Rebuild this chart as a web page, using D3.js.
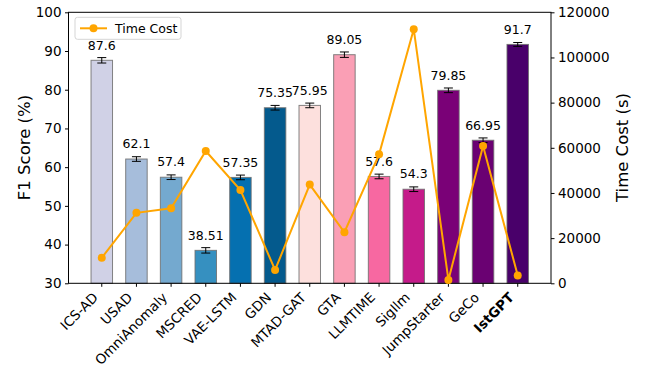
<!DOCTYPE html>
<html>
<head>
<meta charset="utf-8">
<script src="https://cdn.jsdelivr.net/npm/d3@7"></script>
<style>
  html, body { margin: 0; padding: 0; background: #fff; }
  svg { display: block; font-family: "DejaVu Sans", sans-serif; }
</style>
</head>
<body>
<svg id="chart" width="646" height="371"></svg>
<script>
// Methods compared
const methods = ["ICS-AD", "USAD", "OmniAnomaly", "MSCRED", "VAE-LSTM", "GDN", "MTAD-GAT",
                 "GTA", "LLMTIME", "SigIlm", "JumpStarter", "GeCo", "IstGPT"];
// F1 score (%) per method
const f1Scores = [87.6, 62.1, 57.4, 38.51, 57.35, 75.35, 75.95, 89.05, 57.6, 54.3, 79.85, 66.95, 91.7];
// Spread of F1 over runs (error bar half-length)
const f1Err = [0.7, 0.6, 0.6, 0.7, 0.6, 0.6, 0.6, 0.7, 0.6, 0.6, 0.6, 0.6, 0.5];
// Training time cost (s)
const timeCost = [11300, 31200, 33200, 58600, 41300, 5900, 43700, 22600, 57100, 112500, 1500, 60800, 3500];
// Bar fills
const barColors = ["#d0d1e6", "#a6bddb", "#74a9cf", "#3690c0", "#0570b0", "#045a8d",
                   "#fde0dd", "#fa9fb5", "#f768a1", "#c51b8a", "#7a0177", "#6a0172", "#49006a"];
// Axis ticks
const f1Ticks = [30, 40, 50, 60, 70, 80, 90, 100];
const timeTicks = [0, 20000, 40000, 60000, 80000, 100000, 120000];

const svg = d3.select("#chart");
const plotL = 68.5, plotR = 551, plotT = 12.3, plotB = 283.3;

const x = d3.scaleLinear().domain([-0.96, methods.length - 1 + 0.96]).range([plotL, plotR]);
const y = d3.scaleLinear().domain([30, 100]).range([plotB, plotT]);
const y2 = d3.scaleLinear().domain([0, 120000]).range([plotB, plotT]);
const barW = x(0.62) - x(0);

// Bars
svg.append("g").selectAll("rect").data(f1Scores).join("rect")
  .attr("x", (d, i) => x(i) - barW / 2)
  .attr("y", d => y(d))
  .attr("width", barW)
  .attr("height", d => plotB - y(d))
  .attr("fill", (d, i) => barColors[i])
  .attr("stroke", "#6e6e6e")
  .attr("stroke-opacity", 0.85)
  .attr("stroke-width", 1);

// Error bars
const eb = svg.append("g").attr("stroke", "#000").attr("stroke-width", 1);
f1Scores.forEach((v, i) => {
  const cx = x(i), hi = y(v + f1Err[i]), lo = y(v - f1Err[i]);
  eb.append("line").attr("x1", cx).attr("x2", cx).attr("y1", hi).attr("y2", lo);
  eb.append("line").attr("x1", cx - 4.5).attr("x2", cx + 4.5).attr("y1", hi).attr("y2", hi);
  eb.append("line").attr("x1", cx - 4.5).attr("x2", cx + 4.5).attr("y1", lo).attr("y2", lo);
});

// Value labels above bars
svg.append("g").selectAll("text").data(f1Scores).join("text")
  .attr("x", (d, i) => x(i))
  .attr("y", d => y(d + 2) - 3)
  .attr("text-anchor", "middle")
  .attr("font-size", 12.5)
  .attr("fill", "#000")
  .text(d => String(d));

// Left axis
const gl = svg.append("g").attr("transform", `translate(${plotL},0)`)
  .call(d3.axisLeft(y).tickValues(f1Ticks).tickSize(3.5).tickPadding(3.5));
gl.select(".domain").remove();
gl.selectAll("text").attr("font-size", 13.5).attr("font-family", "DejaVu Sans").attr("fill", "#000");

// Right axis
const gr = svg.append("g").attr("transform", `translate(${plotR},0)`)
  .call(d3.axisRight(y2).tickValues(timeTicks).tickSize(3.5).tickPadding(3.5).tickFormat(d3.format("d")));
gr.select(".domain").remove();
gr.selectAll("text").attr("font-size", 13.5).attr("font-family", "DejaVu Sans").attr("fill", "#000");

// Bottom ticks and rotated method names
const gb = svg.append("g");
methods.forEach((m, i) => {
  gb.append("line").attr("x1", x(i)).attr("x2", x(i)).attr("y1", plotB).attr("y2", plotB + 3.5)
    .attr("stroke", "#000");
  const tx = x(i) - 3, ty = plotB + 15;
  gb.append("text")
    .attr("transform", `translate(${tx},${ty}) rotate(-45)`)
    .attr("text-anchor", "end")
    .attr("font-size", 13.5)
    .attr("font-weight", m === "IstGPT" ? "bold" : "normal")
    .attr("fill", "#000")
    .text(m);
});

// Frame
svg.append("rect").attr("x", plotL).attr("y", plotT).attr("width", plotR - plotL).attr("height", plotB - plotT)
  .attr("fill", "none").attr("stroke", "#000").attr("stroke-width", 1);

// Time cost line
const line = d3.line().x((d, i) => x(i)).y(d => y2(d));
svg.append("path").datum(timeCost).attr("d", line)
  .attr("fill", "none").attr("stroke", "#ffa500").attr("stroke-width", 2);
svg.append("g").selectAll("circle").data(timeCost).join("circle")
  .attr("cx", (d, i) => x(i)).attr("cy", d => y2(d)).attr("r", 4).attr("fill", "#ffa500");

// Axis titles
svg.append("text").attr("transform", `translate(30,147.5) rotate(-90)`)
  .attr("text-anchor", "middle").attr("font-size", 16.5).attr("fill", "#000").text("F1 Score (%)");
svg.append("text").attr("transform", `translate(628,147.5) rotate(-90)`)
  .attr("text-anchor", "middle").attr("font-size", 16.5).attr("fill", "#000").text("Time Cost (s)");

// Legend
const lg = svg.append("g");
lg.append("rect").attr("x", 75).attr("y", 17.3).attr("width", 106).attr("height", 22).attr("rx", 2.5)
  .attr("fill", "#fff").attr("fill-opacity", 0.8).attr("stroke", "#d5d5d5");
lg.append("line").attr("x1", 80).attr("x2", 107).attr("y1", 28.3).attr("y2", 28.3)
  .attr("stroke", "#ffa500").attr("stroke-width", 2);
lg.append("circle").attr("cx", 93.5).attr("cy", 28.3).attr("r", 4).attr("fill", "#ffa500");
lg.append("text").attr("x", 115).attr("y", 32.8).attr("font-size", 12.5).attr("fill", "#000").text("Time Cost");
</script>
</body>
</html>
